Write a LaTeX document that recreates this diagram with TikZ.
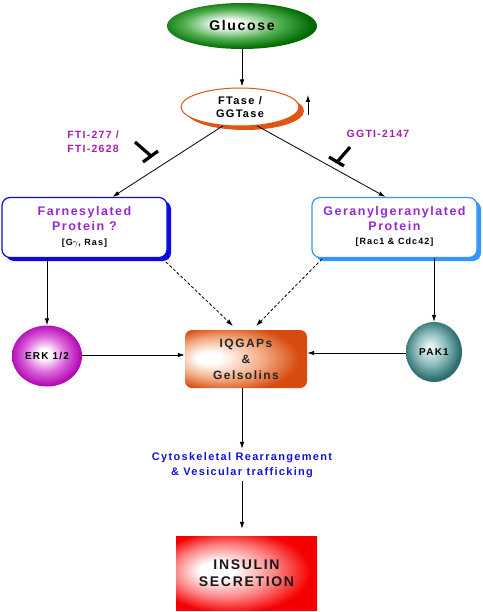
\documentclass[tikz,border=0pt]{standalone}
\usepackage{fontspec}
\setmainfont{Liberation Sans}
\newfontfamily\lsf[LetterSpace=12]{Liberation Sans}
\usetikzlibrary{shapes.geometric,arrows.meta,calc,shadings}
\definecolor{gluD}{RGB}{0,105,0}
\definecolor{gluM}{RGB}{80,175,80}
\definecolor{ftO}{RGB}{225,85,20}
\definecolor{inhP}{RGB}{165,30,170}
\definecolor{protP}{RGB}{150,40,210}
\definecolor{farB}{RGB}{10,10,225}
\definecolor{gerB}{RGB}{50,150,250}
\definecolor{erkD}{RGB}{175,0,175}
\definecolor{erkM}{RGB}{220,100,220}
\definecolor{iqD}{RGB}{215,75,15}
\definecolor{iqM}{RGB}{242,170,130}
\definecolor{pakD}{RGB}{45,110,110}
\definecolor{pakM}{RGB}{135,185,185}
\definecolor{cytoB}{RGB}{20,20,210}
\definecolor{insR}{RGB}{245,0,0}
\definecolor{insM}{RGB}{252,130,130}
\pgfdeclareradialshading{glushade}{\pgfpoint{-5bp}{3bp}}{color(0bp)=(white); color(4bp)=(white); color(16bp)=(gluM); color(26bp)=(gluD); color(50bp)=(gluD)}
\pgfdeclareradialshading{erkshade}{\pgfpoint{-2bp}{2bp}}{color(0bp)=(white); color(4bp)=(white); color(15bp)=(erkM); color(26bp)=(erkD); color(50bp)=(erkD)}
\pgfdeclareradialshading{pakshade}{\pgfpoint{-4bp}{4bp}}{color(0bp)=(white); color(2bp)=(white!85!pakM); color(14bp)=(pakM); color(25bp)=(pakD); color(50bp)=(pakD)}
\pgfdeclareradialshading{iqshade}{\pgfpoint{-17bp}{1bp}}{color(0bp)=(white); color(5bp)=(white); color(18bp)=(iqM); color(29bp)=(iqD); color(50bp)=(iqD)}
\pgfdeclareradialshading{insshade}{\pgfpoint{-12bp}{2bp}}{color(0bp)=(white); color(6bp)=(white); color(18bp)=(insM); color(28bp)=(insR); color(50bp)=(insR)}
\tikzset{
  arr/.style={draw=black, line width=0.8pt, -{Latex[length=7pt,width=4.5pt]}},
  darr/.style={arr, dashed, dash pattern=on 3pt off 2pt},
  inh/.style={draw=black, line width=3.2pt},
  glunode/.style={ellipse, minimum width=150pt, minimum height=46pt, inner sep=0pt, shading=glushade, font=\fontsize{14}{16}\lsf\bfseries},
  ftnode/.style={ellipse, minimum width=118pt, minimum height=38pt, inner sep=0pt, draw=ftO, line width=1pt, fill=white, align=center, font=\fontsize{11}{13}\lsf\bfseries},
  ftshadow/.style={ellipse, minimum width=118pt, minimum height=38pt, inner sep=0pt, fill=ftO},
  protbox/.style={rectangle, rounded corners=8pt, minimum width=165pt, minimum height=60pt, inner sep=0pt, fill=white, line width=1.2pt, align=center},
  shbox/.style={rectangle, rounded corners=8pt, minimum width=165pt, minimum height=60pt, inner sep=0pt},
  ball/.style={ellipse, inner sep=0pt, font=\fontsize{10}{12}\lsf\bfseries},
  inhlab/.style={text=inhP, align=left, font=\fontsize{10.5}{14}\lsf\bfseries},
  bigt/.style={font=\fontsize{12.5}{15}\lsf\bfseries, text=protP},
  smallt/.style={font=\fontsize{9}{11}\lsf\bfseries}
}
\begin{document}
\begin{tikzpicture}[x=1pt,y=-1pt]
\useasboundingbox (0,0) rectangle (482,612);
% Glucose
\node[glunode] (glu) at (242,26) {Glucose};
% FTase / GGTase with orange shadow
\node[ftshadow] (ftsh) at (245,111) {};
\node[ftnode] (ft) at (240,107) {FTase /\\GGTase};
\coordinate (ua1) at (308,115);
\coordinate (ua2) at (308,95);
\draw[arr] (ua1) -- (ua2);
\draw[arr, shorten >=1pt] (glu.south) -- (glu.south |- ft.north);
% protein boxes
\node[shbox, fill=farB] (farsh) at (88.5,231) {};
\node[protbox, draw=farB] (far) at (84.5,227.5) {};
\node[shbox, fill=gerB] (gersh) at (398.5,231) {};
\node[protbox, draw=gerB] (ger) at (394.5,227.5) {};
\node[bigt, align=center] (fart) at (84.5,219) {Farnesylated\\Protein ?};
\node[smallt] (fars) at (84.5,243) {[G$\gamma$, Ras]};
\node[bigt, align=center] (gert) at (394.5,219) {Geranylgeranylated\\Protein};
\node[smallt] (gers) at (394.5,242) {[Rac1 \& Cdc42]};
% arrows FTase -> proteins
\coordinate (farin) at ($(far.north)+(28,0)$);
\coordinate (gerin) at ($(ger.north)+(-9,0)$);
\draw[arr] (ft.228) -- (farin);
\draw[arr] (ft.312) -- (gerin);
% inhibitors
\node[inhlab] (fti) at (93,142) {FTI-277 /\\FTI-2628};
\node[inhlab] (ggti) at (378,134) {GGTI-2147};
\coordinate (t1a) at (135,142);
\coordinate (t1b) at (151,156);
\coordinate (t1c) at (143,162);
\coordinate (t1d) at (158,151);
\draw[inh] (t1a) -- (t1b);
\draw[inh] (t1c) -- (t1d);
\coordinate (t2a) at (350,147);
\coordinate (t2b) at (338,161);
\coordinate (t2c) at (329,157);
\coordinate (t2d) at (344,166);
\draw[inh] (t2a) -- (t2b);
\draw[inh] (t2c) -- (t2d);
% ERK, PAK, IQGAP
\node[ball, shading=erkshade, minimum width=70pt, minimum height=61pt] (erk) at (47,356) {ERK 1/2};
\node[ball, shading=pakshade, minimum width=56pt, minimum height=60pt] (pak) at (434,352) {PAK1};
\node[rectangle, rounded corners=7pt, minimum width=122pt, minimum height=58pt, inner sep=0pt, shading=iqshade, align=center, font=\fontsize{12}{16}\lsf\bfseries, text=black!85] (iq) at (246,359) {IQGAPs\\\&\\Gelsolins};
\draw[arr] (far.south -| erk.north) -- (erk.north);
\draw[arr] (ger.south -| pak.north) -- (pak.north);
\draw[arr] (erk.east |- 0,355) -- (iq.west |- 0,355);
\draw[arr] (pak.west |- 0,353) -- (iq.east |- 0,353);
\coordinate (d1s) at (166,262);
\coordinate (d1e) at (233,326);
\coordinate (d2s) at (322,259);
\coordinate (d2e) at (256,326);
\draw[darr] (d1s) -- (d1e);
\draw[darr] (d2s) -- (d2e);
% cytoskeletal
\node[text=cytoB, align=center, font=\fontsize{11}{15}\lsf\bfseries] (cyto) at (242,465) {Cytoskeletal Rearrangement\\\& Vesicular trafficking};
\draw[arr] (cyto.north |- iq.south) -- (cyto.north);
% insulin
\node[rectangle, minimum width=141pt, minimum height=74pt, inner sep=0pt, shading=insshade, align=center, font=\fontsize{14}{17}\lsf\bfseries, text=black!90] (ins) at (246.5,573) {INSULIN\\SECRETION};
\draw[arr, shorten >=7pt] (cyto.south) -- (cyto.south |- ins.north);
\end{tikzpicture}
\end{document}
